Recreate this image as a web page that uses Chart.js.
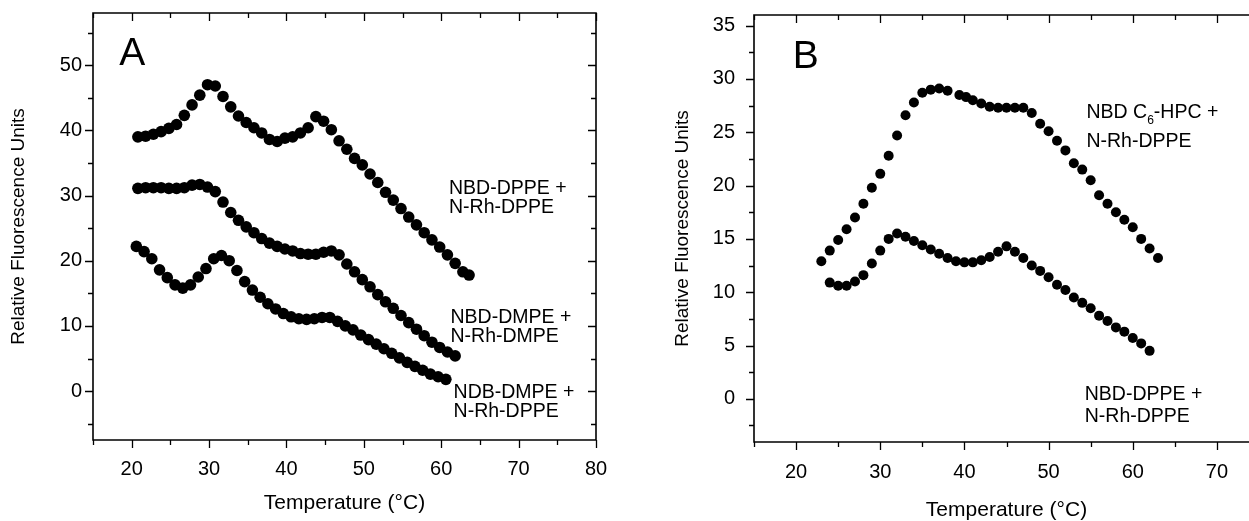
<!DOCTYPE html>
<html><head><meta charset="utf-8">
<script src="https://cdn.jsdelivr.net/npm/chart.js@4.4.1/dist/chart.umd.min.js"></script>
<style>
html,body{margin:0;padding:0;background:#fff;overflow:hidden;width:1249px;height:521px;position:relative;}
#cA{position:absolute;left:0;top:0;}
#cB{position:absolute;left:625px;top:0;}
</style></head><body>
<canvas id="cA" width="625" height="521"></canvas>
<canvas id="cB" width="645" height="521"></canvas>
<script>
// ---------- Panel A data ----------
const tempA_DPPE = [20.8,21.8,22.8,23.8,24.8,25.8,26.8,27.8,28.8,29.8,30.8,31.8,32.8,33.8,34.8,35.8,36.8,37.8,38.8,39.8,40.8,41.8,42.8,43.8,44.8,45.8,46.8,47.8,48.8,49.8,50.8,51.8,52.8,53.8,54.8,55.8,56.8,57.8,58.8,59.8,60.8,61.8,62.8,63.6];
const fluorA_DPPE = [39.0,39.1,39.4,39.8,40.3,40.9,42.3,43.9,45.4,47.0,46.8,45.2,43.6,42.2,41.2,40.4,39.6,38.6,38.3,38.8,39.0,39.6,40.4,42.1,41.4,40.1,38.4,37.1,35.7,34.7,33.3,32.0,30.5,29.3,28.0,26.7,25.5,24.3,23.2,22.1,20.9,19.6,18.3,17.8];

const tempA_DMPE = [20.8,21.8,22.8,23.8,24.8,25.8,26.8,27.8,28.8,29.8,30.8,31.8,32.8,33.8,34.8,35.8,36.8,37.8,38.8,39.8,40.8,41.8,42.8,43.8,44.8,45.8,46.8,47.8,48.8,49.8,50.8,51.8,52.8,53.8,54.8,55.8,56.8,57.8,58.8,59.8,60.8,61.8];
const fluorA_DMPE = [31.1,31.2,31.2,31.2,31.1,31.1,31.2,31.6,31.7,31.3,30.6,29.0,27.4,26.2,25.2,24.3,23.4,22.7,22.2,21.8,21.5,21.1,21.0,21.0,21.3,21.5,20.9,19.5,18.3,17.1,16.0,14.8,13.7,12.7,11.6,10.5,9.5,8.5,7.5,6.7,6.0,5.4];

const tempA_NDB = [20.6,21.6,22.6,23.6,24.6,25.6,26.6,27.6,28.6,29.6,30.6,31.6,32.6,33.6,34.6,35.6,36.6,37.6,38.6,39.6,40.6,41.6,42.6,43.6,44.6,45.6,46.6,47.6,48.6,49.6,50.6,51.6,52.6,53.6,54.6,55.6,56.6,57.6,58.6,59.6,60.6];
const fluorA_NDB = [22.2,21.4,20.3,18.6,17.4,16.3,15.8,16.3,17.5,18.8,20.3,20.8,20.0,18.5,16.8,15.5,14.4,13.4,12.6,11.9,11.4,11.1,11.0,11.1,11.3,11.3,10.7,10.0,9.4,8.6,7.9,7.2,6.5,5.8,5.1,4.4,3.8,3.2,2.6,2.2,1.8];

// ---------- Panel B data ----------
const tempB_HPC = [23,24,25,26,27,28,29,30,31,32,33,34,35,36,37,38,39.4,40.2,41,42,43,44,45,46,47,48,49,50,51,52,53,54,55,56,57,58,59,60,61,62,63];
const fluorB_HPC = [12.9,13.9,14.9,15.9,17.0,18.3,19.8,21.1,22.8,24.7,26.6,27.8,28.7,29.0,29.1,28.9,28.5,28.3,28.0,27.7,27.4,27.3,27.3,27.3,27.3,26.8,25.8,25.1,24.2,23.3,22.1,21.5,20.5,19.1,18.3,17.5,16.8,16.1,15.0,14.1,13.2];

const tempB_DPPE = [24,25,26,27,28,29,30,31,32,33,34,35,36,37,38,39,40,41,42,43,44,45,46,47,48,49,50,51,52,53,54,55,56,57,58,59,60,61,62];
const fluorB_DPPE = [10.9,10.6,10.6,11.0,11.6,12.7,13.9,15.0,15.5,15.2,14.8,14.4,14.0,13.6,13.2,12.9,12.8,12.8,13.0,13.3,13.8,14.3,13.8,13.2,12.5,12.0,11.4,10.7,10.2,9.5,9.0,8.5,7.8,7.3,6.7,6.3,5.7,5.2,4.5];

const xTitle = 'Temperature (°C)';
const yTitle = 'Relative Fluorescence Units';
const FONT = '"Liberation Sans", Arial, Helvetica, sans-serif';

function isMult(v, s){ return Math.abs(v/s - Math.round(v/s)) < 1e-6; }

function framePlugin(o){
  return {
    id:'frameTicks',
    afterDraw(chart){
      const {ctx, chartArea:{left,right,top,bottom}} = chart;
      const xs = chart.scales.x, ys = chart.scales.y;
      ctx.save();
      ctx.strokeStyle = '#000';
      ctx.lineWidth = 1.6;
      ctx.beginPath(); ctx.rect(left, top, right-left, bottom-top); ctx.stroke();
      ctx.lineWidth = 1.3;
      xs.ticks.forEach(t=>{
        const v = t.value;
        if (!isMult(v, o.xStep)) return;
        const L = isMult(v, o.xMajor) ? o.major : o.minor;
        const p = Math.round(xs.getPixelForValue(v)) + 0.5;
        ctx.beginPath();
        ctx.moveTo(p, bottom); ctx.lineTo(p, bottom + L);
        ctx.moveTo(p, top); ctx.lineTo(p, top + L);
        ctx.stroke();
      });
      ys.ticks.forEach(t=>{
        const v = t.value;
        if (!isMult(v, o.yStep)) return;
        const L = isMult(v, o.yMajor) ? o.major : o.minor;
        const p = Math.round(ys.getPixelForValue(v)) + 0.5;
        ctx.beginPath();
        ctx.moveTo(left, p); ctx.lineTo(left - L, p);
        ctx.moveTo(right, p); ctx.lineTo(right - L, p);
        ctx.stroke();
      });
      ctx.restore();
    }
  };
}

function labelPlugin(items){
  return {
    id:'textLabels',
    afterDraw(chart){
      const {ctx} = chart; const xs = chart.scales.x, ys = chart.scales.y;
      ctx.save();
      ctx.fillStyle = '#000'; ctx.textBaseline = 'alphabetic'; ctx.textAlign = 'left';
      items.forEach(it=>{
        let px = xs.getPixelForValue(it.x);
        const py = ys.getPixelForValue(it.y);
        it.parts.forEach(p=>{
          const size = p.sub ? it.size*0.62 : it.size;
          ctx.font = size + 'px ' + FONT;
          ctx.fillText(p.t, px, py + (p.sub ? it.size*0.28 : 0));
          px += ctx.measureText(p.t).width;
        });
      });
      ctx.restore();
    }
  };
}

function makeChart(id, c){
  const datasets = c.series.map(s=>({
    data: s.t.map((t,i)=>({x:t, y:s.v[i]})),
    pointRadius: c.r, pointHoverRadius: c.r, pointBorderWidth: 0,
    backgroundColor:'#000', borderColor:'#000', showLine:false
  }));
  const gridOpt = {display:true, drawOnChartArea:false, drawTicks:true, tickLength:8, color:'rgba(0,0,0,0)'};
  return new Chart(document.getElementById(id), {
    type:'scatter',
    data:{datasets},
    options:{
      responsive:false, animation:false, events:[],
      layout:{padding:c.pad},
      plugins:{legend:{display:false}, tooltip:{enabled:false}},
      scales:{
        x:{
          type:'linear', min:c.x.min, max:c.x.max,
          ticks:{stepSize:c.x.step, includeBounds:false, autoSkip:false, maxRotation:0, padding:c.x.tickPad,
            color:'#000', font:{family:FONT, size:20},
            callback:(v)=> isMult(v, c.x.major) ? String(Math.round(v)) : ''},
          grid:gridOpt, border:{display:false},
          title:{display:true, text:xTitle, color:'#000', font:{family:FONT, size:21, lineHeight:1}, padding:{top:0, bottom:c.x.titlePad}},
          afterFit(s){ s.height = c.x.height; s.paddingLeft = 0; s.paddingRight = 0; s.paddingTop = 0; s.paddingBottom = 0; }
        },
        y:{
          type:'linear', min:c.y.min, max:c.y.max,
          ticks:{stepSize:c.y.step, includeBounds:false, autoSkip:false, padding:c.y.tickPad,
            color:'#000', font:{family:FONT, size:20},
            callback:(v)=> isMult(v, c.y.major) ? String(Math.round(v)) : ''},
          grid:gridOpt, border:{display:false},
          title:{display:true, text:yTitle, color:'#000', font:{family:FONT, size:19, lineHeight:1}, padding:{top:c.y.titlePad, bottom:0}},
          afterFit(s){ s.width = c.y.width; s.paddingLeft = 0; s.paddingRight = 0; s.paddingTop = 0; s.paddingBottom = 0; }
        }
      }
    },
    plugins:[framePlugin({xStep:c.x.step, xMajor:c.x.major, yStep:c.y.step, yMajor:c.y.major, major:c.tickMajor, minor:c.tickMinor}), labelPlugin(c.labels)]
  });
}

makeChart('cA', {
  series:[{t:tempA_DPPE, v:fluorA_DPPE},{t:tempA_DMPE, v:fluorA_DMPE},{t:tempA_NDB, v:fluorA_NDB}],
  r:5.8,
  pad:{left:0, top:13, right:29, bottom:0},
  x:{min:15, max:80, step:5, major:10, tickPad:9, height:81, titlePad:7},
  y:{min:-7.5, max:58, step:5, major:10, tickPad:3, width:93, titlePad:9.5},
  tickMajor:8, tickMinor:5,
  labels:[
    {x:18.4, y:50.0, size:39, parts:[{t:'A'}]},
    {x:61.0, y:30.3, size:19.5, parts:[{t:'NBD-DPPE +'}]},
    {x:61.0, y:27.3, size:19.5, parts:[{t:'N-Rh-DPPE'}]},
    {x:61.2, y:10.4, size:19.5, parts:[{t:'NBD-DMPE +'}]},
    {x:61.2, y:7.5, size:19.5, parts:[{t:'N-Rh-DMPE'}]},
    {x:61.6, y:-1.0, size:19.5, parts:[{t:'NDB-DMPE +'}]},
    {x:61.6, y:-3.95, size:19.5, parts:[{t:'N-Rh-DPPE'}]}
  ]
});

makeChart('cB', {
  series:[{t:tempB_HPC, v:fluorB_HPC},{t:tempB_DPPE, v:fluorB_DPPE}],
  r:5.0,
  pad:{left:0, top:15, right:11, bottom:0},
  x:{min:15, max:75, step:5, major:10, tickPad:10, height:79, titlePad:0},
  y:{min:-4.05, max:36, step:2.5, major:5, tickPad:11, width:129, titlePad:48.5},
  tickMajor:8, tickMinor:5,
  labels:[
    {x:19.6, y:31.0, size:39, parts:[{t:'B'}]},
    {x:54.5, y:26.3, size:19.5, parts:[{t:'NBD C'},{t:'6', sub:true},{t:'-HPC +'}]},
    {x:54.5, y:23.6, size:19.5, parts:[{t:'N-Rh-DPPE'}]},
    {x:54.3, y:-0.15, size:19.5, parts:[{t:'NBD-DPPE +'}]},
    {x:54.3, y:-2.2, size:19.5, parts:[{t:'N-Rh-DPPE'}]}
  ]
});
</script>
</body></html>
